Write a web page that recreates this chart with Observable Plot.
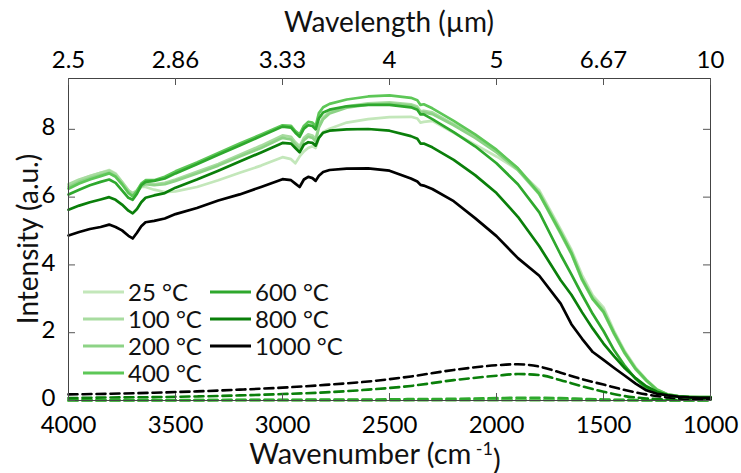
<!DOCTYPE html>
<html>
<head>
<meta charset="utf-8">
<script src="https://cdn.jsdelivr.net/npm/d3@7"></script>
<script src="https://cdn.jsdelivr.net/npm/@observablehq/plot@0.6"></script>
<style>
  body { margin: 0; background: #fff; }
  svg { font-family: Lato, "Open Sans", sans-serif; }
</style>
</head>
<body>
<div id="chart"></div>
<script>
// Emission spectra of the sample at increasing temperature (measured, solid)
// together with the reference blackbody-like curves (dashed).

const temps = ["25 °C", "100 °C", "200 °C", "400 °C", "600 °C", "800 °C", "1000 °C"];
const colors = ["#c3e7ba", "#a8dca0", "#8dd386", "#5dc757", "#2ea82d", "#0a7f0a", "#000000"];

// Wavenumber grid (cm^-1) of the measured spectra
const wavenumber = [4000, 3950, 3900, 3850, 3810, 3780, 3750, 3720, 3700, 3680,
  3660, 3640, 3600, 3550, 3500, 3400, 3300, 3200, 3100, 3000,
  2960, 2940, 2920, 2900, 2880, 2860, 2845, 2830, 2810, 2780,
  2700, 2600, 2500, 2400, 2370, 2355, 2340, 2300, 2200, 2100,
  2000, 1900, 1800, 1700, 1650, 1600, 1550, 1500, 1450, 1400,
  1350, 1300, 1250, 1200, 1150, 1100, 1050, 1000];

const i25 = [6.35, 6.50, 6.62, 6.72, 6.80, 6.70, 6.45, 6.20, 6.10, 6.15,
  6.30, 6.30, 6.22, 6.15, 6.17, 6.30, 6.50, 6.72, 6.93, 7.18,
  7.12, 7.00, 7.20, 7.35, 7.45, 7.50, 7.45, 7.75, 7.92, 8.02,
  8.20, 8.30, 8.36, 8.37, 8.32, 8.20, 8.22, 8.25, 7.90, 7.55,
  7.20, 6.80, 6.20, 5.05, 4.45, 3.70, 3.10, 2.75, 2.05, 1.45,
  0.98, 0.62, 0.33, 0.18, 0.13, 0.11, 0.10, 0.10];

const i100 = [6.38, 6.52, 6.62, 6.72, 6.78, 6.68, 6.45, 6.20, 6.12, 6.20,
  6.38, 6.42, 6.38, 6.42, 6.52, 6.75, 6.98, 7.25, 7.52, 7.82,
  7.78, 7.62, 7.50, 7.75, 7.85, 7.82, 7.72, 8.10, 8.35, 8.52,
  8.68, 8.77, 8.80, 8.74, 8.67, 8.53, 8.55, 8.50, 8.15, 7.80,
  7.38, 6.85, 6.15, 5.00, 4.40, 3.62, 3.05, 2.68, 2.00, 1.42,
  0.95, 0.60, 0.32, 0.18, 0.13, 0.11, 0.10, 0.10];

const i200 = [6.30, 6.45, 6.56, 6.65, 6.72, 6.62, 6.40, 6.15, 6.05, 6.15,
  6.32, 6.38, 6.35, 6.38, 6.48, 6.70, 6.93, 7.20, 7.45, 7.75,
  7.70, 7.55, 7.42, 7.68, 7.78, 7.75, 7.65, 8.05, 8.30, 8.47,
  8.64, 8.73, 8.76, 8.70, 8.62, 8.48, 8.50, 8.45, 8.12, 7.75,
  7.32, 6.80, 6.08, 4.92, 4.32, 3.55, 2.98, 2.60, 1.95, 1.38,
  0.92, 0.58, 0.31, 0.17, 0.12, 0.10, 0.10, 0.10];

const i400 = [6.25, 6.40, 6.52, 6.62, 6.70, 6.60, 6.38, 6.12, 6.02, 6.18,
  6.40, 6.50, 6.50, 6.60, 6.76, 7.02, 7.30, 7.58, 7.85, 8.12,
  8.10, 7.95, 7.85, 8.10, 8.22, 8.20, 8.10, 8.48, 8.65, 8.75,
  8.88, 8.97, 9.00, 8.93, 8.86, 8.72, 8.74, 8.62, 8.25, 7.85,
  7.40, 6.85, 6.10, 4.95, 4.35, 3.58, 3.00, 2.62, 1.98, 1.40,
  0.94, 0.60, 0.32, 0.18, 0.12, 0.10, 0.10, 0.10];

const i600 = [6.08, 6.22, 6.35, 6.45, 6.52, 6.42, 6.20, 5.98, 5.92, 6.10,
  6.35, 6.45, 6.48, 6.55, 6.70, 6.97, 7.25, 7.52, 7.80, 8.08,
  8.05, 7.90, 7.78, 8.02, 8.12, 8.10, 8.00, 8.32, 8.50, 8.58,
  8.68, 8.72, 8.72, 8.65, 8.58, 8.44, 8.44, 8.30, 7.92, 7.50,
  7.00, 6.38, 5.55, 4.30, 3.72, 3.12, 2.55, 2.05, 1.48, 1.02,
  0.64, 0.36, 0.22, 0.15, 0.11, 0.10, 0.09, 0.09];

const i800 = [5.63, 5.75, 5.85, 5.93, 6.00, 5.92, 5.78, 5.60, 5.52, 5.65,
  5.85, 5.98, 6.05, 6.12, 6.28, 6.52, 6.78, 7.05, 7.32, 7.60,
  7.58, 7.45, 7.32, 7.55, 7.62, 7.60, 7.52, 7.75, 7.90, 7.96,
  8.00, 8.01, 7.96, 7.80, 7.72, 7.58, 7.58, 7.47, 7.10, 6.65,
  6.12, 5.42, 4.55, 3.55, 3.12, 2.60, 2.12, 1.68, 1.30, 0.95,
  0.66, 0.42, 0.26, 0.16, 0.12, 0.10, 0.09, 0.09];

const i1000 = [4.87, 4.97, 5.06, 5.12, 5.19, 5.12, 5.02, 4.86, 4.78, 4.95,
  5.14, 5.26, 5.30, 5.37, 5.50, 5.68, 5.90, 6.08, 6.30, 6.53,
  6.50, 6.40, 6.30, 6.52, 6.60, 6.56, 6.48, 6.63, 6.74, 6.80,
  6.84, 6.85, 6.78, 6.55, 6.46, 6.36, 6.34, 6.24, 5.88, 5.38,
  4.85, 4.20, 3.68, 2.86, 2.25, 1.82, 1.43, 1.20, 0.96, 0.73,
  0.50, 0.30, 0.20, 0.15, 0.11, 0.09, 0.08, 0.08];

// Reference curves (dashed)
const refWavenumber = [4000, 3800, 3600, 3400, 3200, 3000, 2800, 2600, 2400, 2200,
  2000, 1900, 1800, 1700, 1600, 1500, 1400, 1300, 1200, 1100, 1000];
const r25 = [0.00, 0.00, 0.00, 0.00, 0.00, 0.00, 0.00, 0.00, 0.00, 0.00,
  0.00, 0.00, 0.00, 0.00, 0.00, 0.00, 0.00, 0.00, 0.00, 0.00, 0.00];
const r100 = [0.00, 0.00, 0.00, 0.00, 0.00, 0.00, 0.00, 0.00, 0.00, 0.00,
  0.00, 0.00, 0.00, 0.00, 0.00, 0.00, 0.00, 0.00, 0.00, 0.00, 0.00];
const r200 = [0.00, 0.00, 0.00, 0.00, 0.00, 0.00, 0.00, 0.00, 0.00, 0.01,
  0.01, 0.01, 0.01, 0.01, 0.01, 0.00, 0.00, 0.00, 0.00, 0.00, 0.00];
const r400 = [0.00, 0.00, 0.00, 0.01, 0.01, 0.01, 0.01, 0.01, 0.02, 0.02,
  0.02, 0.02, 0.02, 0.02, 0.02, 0.01, 0.01, 0.00, 0.00, 0.00, 0.00];
const r600 = [0.01, 0.01, 0.01, 0.01, 0.02, 0.02, 0.03, 0.03, 0.04, 0.05,
  0.07, 0.08, 0.08, 0.07, 0.05, 0.03, 0.02, 0.01, 0.00, 0.00, 0.00];
const r800 = [0.07, 0.09, 0.10, 0.12, 0.15, 0.19, 0.24, 0.32, 0.43, 0.60,
  0.73, 0.78, 0.75, 0.60, 0.42, 0.26, 0.13, 0.06, 0.03, 0.02, 0.02];
const r1000 = [0.18, 0.20, 0.23, 0.27, 0.32, 0.38, 0.46, 0.56, 0.71, 0.90,
  1.04, 1.07, 1.00, 0.82, 0.63, 0.47, 0.31, 0.18, 0.09, 0.05, 0.04];

// Axis ticks
const xTicks = [4000, 3500, 3000, 2500, 2000, 1500, 1000];
const wavelengthLabels = ["2.5", "2.86", "3.33", "4", "5", "6.67", "10"];
const yTicks = [0, 2, 4, 6, 8];

const measured = [i25, i100, i200, i400, i600, i800, i1000];
const reference = [r25, r100, r200, r400, r600, r800, r1000];

const spectra = temps.flatMap((t, k) =>
  wavenumber.map((w, i) => ({wn: w, value: measured[k][i], temp: t})));
const refs = temps.flatMap((t, k) =>
  refWavenumber.map((w, i) => ({wn: w, value: reference[k][i], temp: t})));

const width = 741, height = 473;
const mt = 78, mr = 31, mb = 73, ml = 68;
const innerW = width - ml - mr, innerH = height - mt - mb;
const tickLen = 7;
const wlLabel = new Map(xTicks.map((d, i) => [d, wavelengthLabels[i]]));

const svg = Plot.plot({
  width, height,
  marginTop: mt, marginRight: mr, marginBottom: mb, marginLeft: ml,
  style: {fontFamily: "Lato, 'Open Sans', sans-serif", fontSize: "24px", color: "#000", background: "#fff"},
  x: {domain: [4000, 1000], label: null},
  y: {domain: [0, 9.5], label: null},
  color: {domain: temps, range: colors},
  marks: [
    Plot.line(refs, {x: "wn", y: "value", z: "temp", stroke: "temp",
      strokeWidth: 2.6, strokeDasharray: "9,5", curve: "monotone-x"}),
    Plot.line(spectra, {x: "wn", y: "value", z: "temp", stroke: "temp",
      strokeWidth: 2.7, strokeLinejoin: "round"}),
    Plot.frame({stroke: "#444", strokeWidth: 1}),
    // inward ticks on all four sides
    Plot.tickX(xTicks, {x: d => d, insetTop: innerH - tickLen, stroke: "#555"}),
    Plot.tickX(xTicks, {x: d => d, insetBottom: innerH - tickLen, stroke: "#555"}),
    Plot.tickY(yTicks, {y: d => d, insetRight: innerW - tickLen, stroke: "#555"}),
    Plot.tickY(yTicks, {y: d => d, insetLeft: innerW - tickLen, stroke: "#555"}),
    Plot.axisX({anchor: "bottom", ticks: xTicks, tickSize: 0, tickPadding: 15, label: null,
      tickFormat: d => String(d)}),
    Plot.axisX({anchor: "top", ticks: xTicks, tickSize: 0, tickPadding: 11, label: null,
      tickFormat: d => wlLabel.get(d)}),
    Plot.axisY({anchor: "left", ticks: yTicks, tickSize: 0, tickPadding: 13, dy: -2, label: null,
      tickFormat: d => String(d)})
  ]
});

const root = d3.select(svg);
const labelFont = "28px";

// Axis titles
const xt = root.append("text")
  .attr("x", ml + innerW / 2 - 14).attr("y", height - 9)
  .attr("text-anchor", "middle").style("font-size", "29px").attr("fill", "#111");
xt.append("tspan").text("Wavenumber (cm");
xt.append("tspan").attr("dy", "-0.5em").attr("dx", "0.25em").style("font-size", "18px").text("-1");
xt.append("tspan").attr("dy", "0.5em").text(")");

root.append("text")
  .attr("x", ml + innerW / 2).attr("y", 32)
  .attr("text-anchor", "middle").style("font-size", labelFont).attr("fill", "#111")
  .text("Wavelength (µm)");

root.append("text")
  .attr("transform", `translate(38,${mt + innerH / 2}) rotate(-90)`)
  .attr("text-anchor", "middle").style("font-size", labelFont).attr("fill", "#111")
  .text("Intensity (a.u.)");

// Legend: two columns of line swatches
const legend = root.append("g").style("font-size", "24px").attr("text-anchor", "start");
temps.forEach((t, i) => {
  const col = i < 4 ? 0 : 1;
  const row = i < 4 ? i : i - 4;
  const x0 = col === 0 ? 83 : 210;
  const y0 = 292 + row * 27;
  legend.append("line")
    .attr("x1", x0).attr("x2", x0 + 41).attr("y1", y0).attr("y2", y0)
    .attr("stroke", colors[i]).attr("stroke-width", 3);
  legend.append("text")
    .attr("x", x0 + 45).attr("y", y0).attr("dy", "0.36em")
    .attr("text-anchor", "start")
    .attr("fill", "#111").text(t);
});

document.getElementById("chart").appendChild(svg);
</script>
</body>
</html>
